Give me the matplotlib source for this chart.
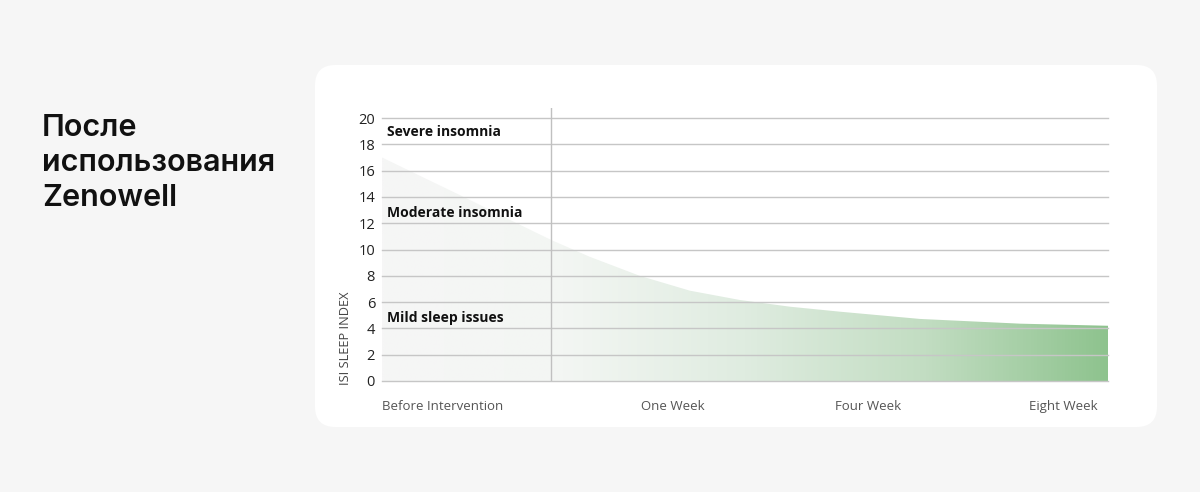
import numpy as np
import matplotlib
matplotlib.use("Agg")
import matplotlib.pyplot as plt
from matplotlib.colors import LinearSegmentedColormap
from matplotlib.patches import FancyBboxPatch

# ---------------- data ----------------
title_lines = ["После", "использования", "Zenowell"]
y_label = "ISI SLEEP INDEX"
categories = ["Before Intervention", "One Week", "Four Week", "Eight Week"]
y_ticks = [0, 2, 4, 6, 8, 10, 12, 14, 16, 18, 20]
zone_labels = ["Severe insomnia", "Moderate insomnia", "Mild sleep issues"]
zone_values = [18.9, 12.8, 4.8]
# curve samples (relative position along the time axis, ISI score)
curve_pos = [0.000, 0.060, 0.120, 0.180, 0.234, 0.286, 0.355, 0.424,
             0.493, 0.562, 0.631, 0.741, 0.879, 1.000]
curve_val = [17.0, 15.4, 13.8, 12.15, 10.7, 9.45, 8.0, 6.87,
             6.16, 5.65, 5.27, 4.72, 4.36, 4.2]

# ---------------- layout ----------------
W, H = 1200, 492
cat_pos = [0.084, 0.40, 0.67, 0.938]
divider_pos = 0.233

plt.rcParams['font.family'] = ['Open Sans', 'DejaVu Sans']
fig = plt.figure(figsize=(W / 100, H / 100), dpi=100)
fig.patch.set_facecolor('#f6f6f6')

# white card
card = FancyBboxPatch((315 / W, (H - 427) / H), (1157 - 315) / W, (427 - 65) / H,
                      boxstyle="round,pad=0,rounding_size=0.017",
                      mutation_aspect=W / H,
                      transform=fig.transFigure, facecolor='white', edgecolor='none', zorder=-5)
fig.patches.append(card)

# title
for i, line in enumerate(title_lines):
    fig.text(42 / W, 1 - (128 + 35 * i) / H, line, fontsize=22, fontweight='semibold',
             family=['Inter', 'DejaVu Sans'], color='#111111', va='center', ha='left')

ax = fig.add_axes([382 / W, (H - 381) / H, 726 / W, (381 - 107.5) / H])
ax.set_zorder(2)
ax.set_facecolor('none')
ymax = 20.8
ax.set_xlim(0, 1)
ax.set_ylim(0, ymax)

# gradient area
cmap = LinearSegmentedColormap.from_list('g', [
    (0.0, '#f6f6f6'), (0.25, '#f3f6f3'), (0.5, '#dfece0'),
    (0.75, '#c2ddc2'), (1.0, '#8ec38e')])
poly = ax.fill_between(curve_pos, curve_val, 0, facecolor='none', edgecolor='none')
grad = np.linspace(0, 1, 512).reshape(1, -1)
im = ax.imshow(grad, cmap=cmap, extent=[0, 1, 0, ymax], aspect='auto',
               origin='lower', zorder=1, interpolation='bilinear')
im.set_clip_path(poly.get_paths()[0], transform=ax.transData)

# grid lines
for t in y_ticks:
    ax.axhline(t, color='#c6c6c6', lw=1.0, zorder=3, clip_on=False)
ax.axvline(divider_pos, color='#c0c0c0', lw=1.0, zorder=3)

ax.set_yticks(y_ticks)
ax.set_yticklabels([str(t) for t in y_ticks], fontsize=10.5, color='#222222')
ax.tick_params(axis='y', length=0, pad=5)
ax.set_xticks(cat_pos)
ax.set_xticklabels(categories, fontsize=9.5, color='#555555')
ax.tick_params(axis='x', length=0, pad=14)
for s in ax.spines.values():
    s.set_visible(False)

ax.set_ylabel(y_label, fontsize=9.2, color='#444444')
ax.yaxis.set_label_coords(-0.041, 0.155)

for lab, v in zip(zone_labels, zone_values):
    ax.text(0.007, v, lab, fontsize=10, fontweight='bold', color='#111111',
            va='center', ha='left', zorder=4)

fig.savefig('out.png', dpi=100, facecolor=fig.get_facecolor())
